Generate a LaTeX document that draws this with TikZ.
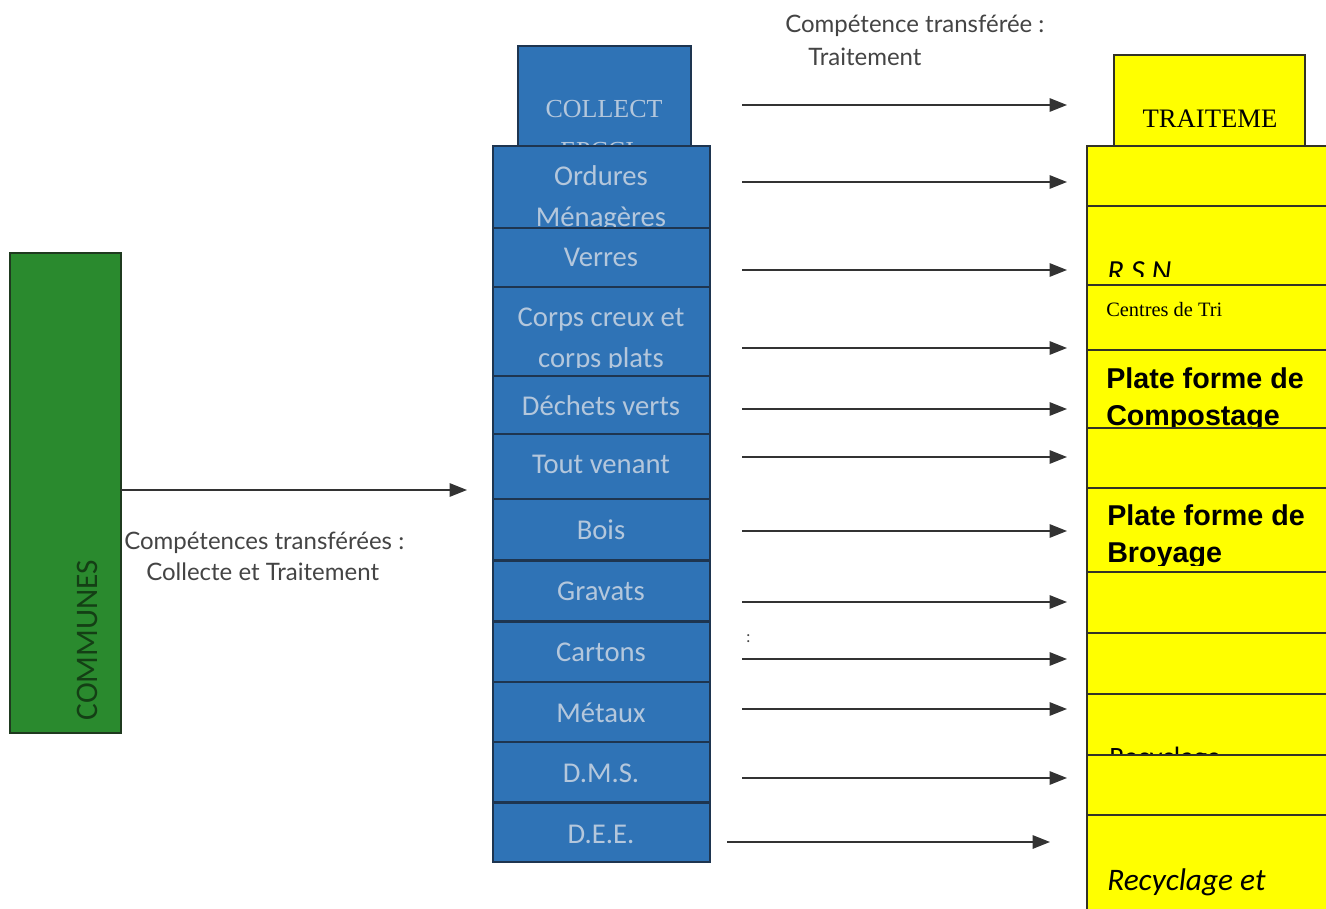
\documentclass[tikz,border=0pt]{standalone}
\usepackage{fontspec}
\setmainfont{Carlito}
\newfontfamily\lblfont{Lato}
\newfontfamily\tnr{Liberation Serif}
\newfontfamily\arl{Liberation Sans}
\usetikzlibrary{arrows.meta,fit}
\definecolor{bfill}{HTML}{2F73B6}
\definecolor{bline}{HTML}{1E3550}
\definecolor{btext}{HTML}{B4C7DC}
\definecolor{gfill}{HTML}{2A8A2E}
\definecolor{gline}{HTML}{1F3A1F}
\definecolor{gtext}{HTML}{143F15}
\definecolor{yfill}{HTML}{FFFF00}
\definecolor{yline}{HTML}{333326}
\definecolor{arrc}{HTML}{333333}
\definecolor{lblc}{HTML}{444444}
\begin{document}
\begin{tikzpicture}[x=0.75pt,y=-0.75pt,
  bluebox/.style={draw=bline, fill=bfill, line width=1.4pt, inner sep=0pt},
  ybox/.style={draw=yline, fill=yfill, line width=1.6pt, inner sep=0pt},
  gbox/.style={draw=gline, fill=gfill, line width=1.4pt, inner sep=0pt},
  btxt/.style={text=btext, font=\fontsize{21.5}{24}\selectfont, anchor=base, inner sep=0pt},
  lbl/.style={text=lblc, font=\lblfont\fontsize{18}{21}\selectfont, anchor=base west, inner sep=0pt},
  ytxt/.style={text=black, anchor=base west, inner sep=0pt},
  arr/.style={draw=arrc, line width=1.3pt, -{Triangle[length=13pt,width=10pt]}}]
\useasboundingbox (0,0) rectangle (1326,908);
\clip (0,0) rectangle (1326,908);
\fill[white] (0,0) rectangle (1326,908);

% ---------- green COMMUNES ----------
\node[gbox, fit={(10,253)(121,733)}] (communes) {};
\node[text=gtext, font=\fontsize{23.5}{26}\selectfont, rotate=90, inner sep=0pt] (communestxt) at (87,640) {COMMUNES};

% ---------- blue column ----------
\node[bluebox, fit={(518,46)(691,148)}] (collect) {};
\begin{scope}
  \clip (518,46) rectangle (691,146);
  \node[btxt, font=\tnr\fontsize{19.5}{22}\selectfont] (collecttxt) at (604,117) {COLLECT};
  \node[btxt, font=\tnr\fontsize{19.5}{22}\selectfont] (collecttxtb) at (604,159) {EPCCI :};
\end{scope}

\node[bluebox, fit={(493,146)(710,228)}] (om) {};
\node[btxt] (omt) at (601,185) {Ordures};
\begin{scope}
  \clip (493,146) rectangle (710,226);
  \node[btxt] (omtb) at (601,226) {Ménagères};
\end{scope}

\node[bluebox, fit={(493,228)(710,287)}] (verres) {};
\node[btxt] (verrest) at (601,266) {Verres};

\node[bluebox, fit={(493,287)(710,376)}] (cc) {};
\node[btxt] (cct) at (601,326) {Corps creux et};
\begin{scope}
  \clip (493,287) rectangle (710,367);
  \node[btxt] (cctb) at (601,367) {corps plats};
\end{scope}

\node[bluebox, fit={(493,376)(710,434)}] (dv) {};
\node[btxt] (dvt) at (601,415) {Déchets verts};

\node[bluebox, fit={(493,434)(710,499)}] (tv) {};
\node[btxt] (tvt) at (601,473) {Tout venant};

\node[bluebox, fit={(493,499)(710,560)}] (bois) {};
\node[btxt] (boist) at (601,539) {Bois};

\node[bluebox, fit={(493,561)(710,621)}] (grav) {};
\node[btxt] (gravt) at (601,600) {Gravats};

\node[bluebox, fit={(493,622)(710,682)}] (cart) {};
\node[btxt] (cartt) at (601,661) {Cartons};

\node[bluebox, fit={(493,682)(710,742)}] (met) {};
\node[btxt] (mett) at (601,722) {Métaux};

\node[bluebox, fit={(493,742)(710,802)}] (dms) {};
\node[btxt] (dmst) at (601,782) {D.M.S.};

\node[bluebox, fit={(493,803)(710,862)}] (dee) {};
\node[btxt] (deet) at (601,843) {D.E.E.};

% ---------- yellow column ----------
\node[ybox, fit={(1114,55)(1305,146)}] (trait) {};
\node[ytxt, anchor=base, font=\tnr\fontsize{20}{24}\selectfont] (traitt) at (1210,127) {TRAITEME};

\node[ybox, fit={(1087,146)(1345,206)}] (y1) {};

\node[ybox, fit={(1087,206)(1345,285)}] (y2) {};
\begin{scope}
  \clip (1087,206) rectangle (1345,276);
  \node[ytxt, font=\itshape\fontsize{23}{26}\selectfont] (y2t) at (1107,281) {R S N};
\end{scope}

\node[ybox, fit={(1087,285)(1345,350)}] (y3) {};
\node[ytxt, font=\tnr\fontsize{15.3}{17}\selectfont] (y3t) at (1106,316) {Centres de Tri};

\node[ybox, fit={(1087,350)(1345,428)}] (y4) {};
\node[ytxt, font=\arl\bfseries\fontsize{21.5}{26}\selectfont] (y4t) at (1106,388) {Plate forme de};
\begin{scope}
  \clip (1087,350) rectangle (1345,427);
  \node[ytxt, font=\arl\bfseries\fontsize{21.5}{26}\selectfont] (y4tb) at (1106,425) {Compostage};
\end{scope}

\node[ybox, fit={(1087,428)(1345,488)}] (y5) {};

\node[ybox, fit={(1087,488)(1345,572)}] (y6) {};
\node[ytxt, font=\arl\bfseries\fontsize{21.5}{26}\selectfont] (y6t) at (1107,525) {Plate forme de};
\begin{scope}
  \clip (1087,488) rectangle (1345,565);
  \node[ytxt, font=\arl\bfseries\fontsize{21.5}{26}\selectfont] (y6tb) at (1107,562) {Broyage};
\end{scope}

\node[ybox, fit={(1087,572)(1345,633)}] (y7) {};
\node[ybox, fit={(1087,633)(1345,694)}] (y8) {};

\node[ybox, fit={(1087,694)(1345,755)}] (y9) {};
\begin{scope}
  \clip (1087,694) rectangle (1345,754);
  \node[ytxt, font=\fontsize{21}{24}\selectfont] (y9t) at (1109,766) {Recyclage};
\end{scope}

\node[ybox, fit={(1087,755)(1345,815)}] (y10) {};

\node[ybox, fit={(1087,815)(1345,930)}] (y11) {};
\node[ytxt, font=\itshape\fontsize{23.5}{28}\selectfont] (y11t) at (1107,890) {Recyclage et};

% ---------- labels ----------
\node[lbl] (l1) at (785,32) {Compétence transférée :};
\node[lbl] (l2) at (808,65) {Traitement};
\node[lbl] (l3) at (124,549) {Compétences transférées :};
\node[lbl] (l4) at (146,580) {Collecte et Traitement};
\node[lbl, font=\lblfont\fontsize{12}{14}\selectfont] (colon) at (746,642) {:};

% ---------- arrows ----------
\coordinate (gs) at (121,490);
\coordinate (ge) at (467,490);
\draw[arr] (gs) -- (ge);

\foreach \i/\y in {1/105,2/182,3/270,4/348,5/409,6/457,7/531,8/602,9/659,10/709,11/778}{
  \coordinate (s\i) at (742,\y);
  \coordinate (e\i) at (1067,\y);
  \draw[arr] (s\i) -- (e\i);
}
\coordinate (s12) at (727,842);
\coordinate (e12) at (1050,842);
\draw[arr] (s12) -- (e12);
\end{tikzpicture}
\end{document}
